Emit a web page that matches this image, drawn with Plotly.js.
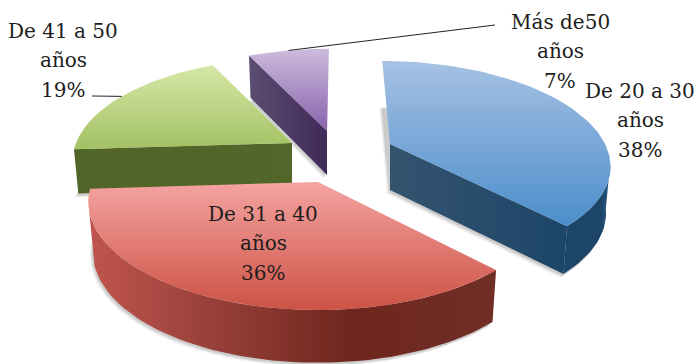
<!DOCTYPE html>
<html>
<head>
<meta charset="utf-8">
<script src="https://cdn.plot.ly/plotly-3.0.1.min.js"></script>
<style>html,body{margin:0;padding:0;background:#fff}#chart{width:697px;height:364px}</style>
</head>
<body>
<div id="chart"></div>
<script>
// Age groups and their share of respondents, clockwise from twelve o'clock
const categories = ["De 20 a 30", "De 31 a 40", "De 41 a 50", "Más de50"];
const shares = [38, 36, 19, 7];

// Where each exploded wedge sits on the page and how large its disc projects
const apexX = [390, 318, 292, 327];
const apexY = [144, 182, 143, 131];
const radiusX = [215, 226, 216, 218];
const radiusY = [98, 105, 100, 97];
const skew = [0.093, 0, 0, -0.024];
const depth = [46, 50, 44, 44];
const perspective = 0.18;
const baseInset = 0.98;

// Wedge colours: top face ramp, outer rim ramp, cut face ramp
const topRamp = [["#4c8ecc", "#a6c1e3"], ["#cd5245", "#f4a3a1"], ["#a2c263", "#d6e7a8"], ["#8763ad", "#cdbbdc"]];
const rimRamp = [
  [[0, "#1c4568"], [0.8, "#1c4568"], [1, "#2a5b88"]],
  [[0, "#c0554e"], [0.3, "#98403a"], [0.65, "#6e261c"], [1, "#702e27"]],
  [[0, "#526528"], [1, "#526528"]],
  [[0, "#46305f"], [1, "#46305f"]]
];
const cutRamp = [
  [[0, "#35536f"], [1, "#1c4568"]],
  [[0, "#98403a"], [1, "#6e261c"]],
  [[0, "#526528"], [1, "#536629"]],
  [[0, "#5c4d72"], [1, "#402a58"]]
];
const shadowSteps = [[-3, 4, 0.05], [-2, 3, 0.07], [-1, 2, 0.09]];
const drawOrder = [3, 2, 0, 1];

// Label anchors on the page
const labelX = [640, 263, 63, 560];
const labelY = [120, 243, 60, 51];
const labelLeading = 29.5;
const leaderEnd = [null, null, [92, 96], [495, 25]];

const total = shares.reduce((a, b) => a + b, 0);
const startAngle = [];
shares.reduce((acc, v, i) => { startAngle[i] = acc; return acc + v / total * 2 * Math.PI; }, 0);
const endAngle = shares.map((v, i) => startAngle[i] + v / total * 2 * Math.PI);

// Project a point of the unit disc rim (or its lower plane) onto the page
function project(i, theta, radius, lower) {
  const X = Math.sin(theta) * radius, Y = -Math.cos(theta) * radius;
  const s = 1 / (1 - perspective * Y);
  const inset = lower ? baseInset : 1;
  const dx = (radiusX[i] * X * s + skew[i] * radiusY[i] * Y * s) * inset;
  const dy = radiusY[i] * Y * s * inset;
  return [apexX[i] + dx, apexY[i] + dy + (lower ? depth[i] * Math.sqrt(s) : 0)];
}

function arc(i, a0, a1, lower) {
  const n = Math.max(2, Math.ceil(Math.abs(a1 - a0) / 0.03));
  const pts = [];
  for (let k = 0; k <= n; k++) pts.push(project(i, a0 + (a1 - a0) * k / n, 1, lower));
  return pts;
}

function patch(pts, gradient) {
  const closed = pts.concat([pts[0]]);
  return {
    type: "scatter", mode: "lines", hoverinfo: "skip", showlegend: false,
    x: closed.map(p => p[0]), y: closed.map(p => p[1]),
    line: { width: 0 }, fill: "toself", fillgradient: gradient, fillcolor: "rgba(0,0,0,0)"
  };
}

function softPatch(pts, alpha) {
  const closed = pts.concat([pts[0]]);
  return {
    type: "scatter", mode: "lines", hoverinfo: "skip", showlegend: false,
    x: closed.map(p => p[0]), y: closed.map(p => p[1]),
    line: { width: 0 }, fill: "toself", fillcolor: "rgba(0,0,0," + alpha + ")"
  };
}

const rimLimit0 = Math.acos(-perspective);
const rimLimit1 = 2 * Math.PI - rimLimit0;
const traces = [];

drawOrder.forEach(i => {
  const a0 = startAngle[i], a1 = endAngle[i];
  const apexTop = project(i, a0, 0, false), apexLow = project(i, a0, 0, true);
  // Faint cast shadow under the lower plane
  shadowSteps.forEach(([ox, oy, alpha]) => {
    const base = [apexLow].concat(arc(i, a0, a1, true));
    traces.push(softPatch(base.map(p => [p[0] + ox, p[1] + oy]), alpha));
  });
  // Cut faces that turn toward the viewer
  if (i === 0) {
    const quad = [apexTop, project(i, a1, 1, false), project(i, a1, 1, true), apexLow];
    traces.push(patch(quad, { type: "horizontal", colorscale: cutRamp[i] }));
  }
  if (i === 2 || i === 3) {
    const quad = [apexTop, project(i, a0, 1, false), project(i, a0, 1, true), apexLow];
    traces.push(patch(quad, { type: "horizontal", colorscale: cutRamp[i] }));
  }
  // Outer rim on the front half of the disc
  const r0 = Math.max(a0, rimLimit0), r1 = Math.min(a1, rimLimit1);
  if (r1 > r0) {
    const rim = arc(i, r0, r1, false).concat(arc(i, r1, r0, true));
    traces.push(patch(rim, { type: "horizontal", colorscale: rimRamp[i] }));
  }
  // Top face
  const top = [apexTop].concat(arc(i, a0, a1, false));
  traces.push(patch(top, {
    type: "vertical",
    colorscale: [[0, topRamp[i][0]], [1, topRamp[i][1]]]
  }));
});

// Each label is three stacked lines: range, unit, share
const annotations = [];
categories.forEach((c, i) => {
  [c, "años", shares[i] + "%"].forEach((line, row) => {
    annotations.push({
      x: labelX[i], y: labelY[i] + (row - 1) * labelLeading, xref: "x", yref: "y",
      showarrow: false, align: "center", xanchor: "center", yanchor: "middle",
      text: line,
      font: { family: "DejaVu Serif, serif", size: 20, color: "#1d1d1d" }
    });
  });
});

// Leader lines run from the rim at the middle of a wedge out to its label
const shapes = [];
leaderEnd.forEach((end, i) => {
  if (!end) return;
  const tip = project(i, (startAngle[i] + endAngle[i]) / 2, 1, false);
  shapes.push({
    type: "line", xref: "x", yref: "y", x0: tip[0], y0: tip[1], x1: end[0], y1: end[1],
    line: { color: "#222", width: 1 }
  });
});

Plotly.newPlot("chart", traces, {
  width: 697, height: 364,
  margin: { l: 0, r: 0, t: 0, b: 0 },
  paper_bgcolor: "#fff", plot_bgcolor: "#fff",
  showlegend: false,
  xaxis: { range: [0, 697], visible: false, fixedrange: true },
  yaxis: { range: [364, 0], visible: false, fixedrange: true },
  annotations, shapes
}, { displayModeBar: false, staticPlot: true });
</script>
</body>
</html>
